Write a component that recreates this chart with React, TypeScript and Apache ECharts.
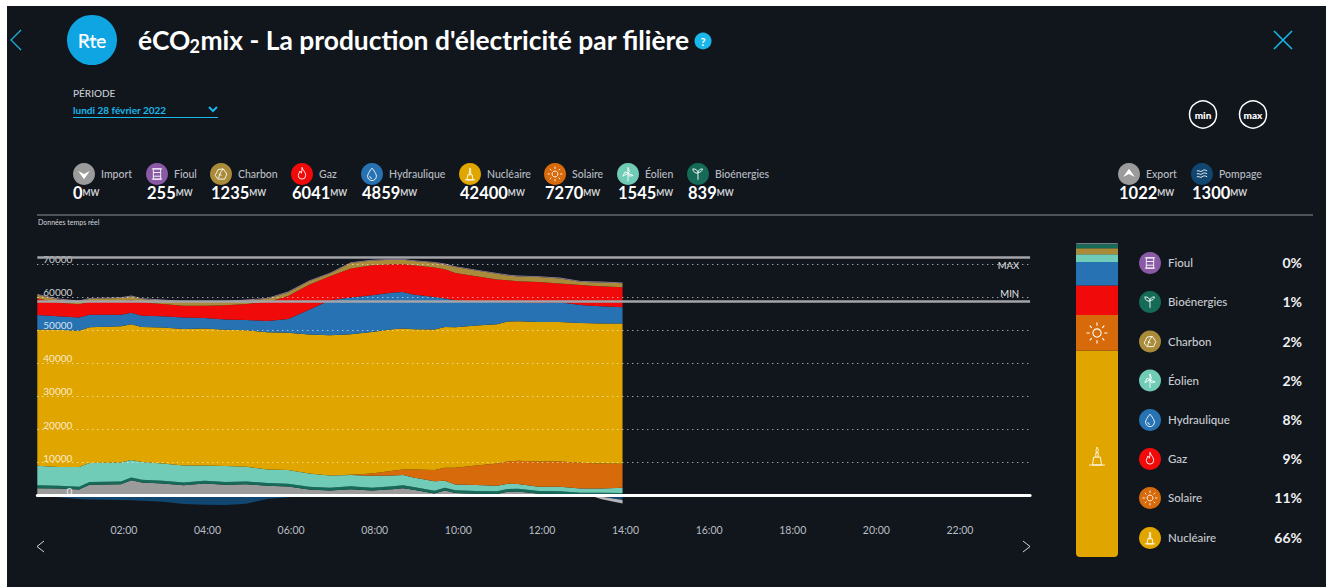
import React, { useEffect, useRef } from "react";
import * as echarts from "echarts";

const hours = [0,0.5,1,1.25,2,2.25,2.5,3,3.5,4,4.5,5,5.5,6,6.5,7,7.5,8,8.5,8.75,9,9.5,9.75,10,10.5,11,11.25,11.5,12,12.5,13,13.25,13.5,14];
const importMW = [2280,2180,1880,3280,3480,4680,3980,3680,3180,3680,3280,3480,2980,2780,1880,1580,1980,1580,1980,2280,1780,680,1580,780,580,480,1180,1280,580,480,80,50,30,0];
const bioMW = [840,840,840,840,840,840,840,840,840,840,840,840,840,840,840,840,840,840,840,840,840,840,840,840,840,840,840,840,840,840,840,840,840,839];
const eolienMW = [5930,5630,5930,5740,5740,5240,5340,5240,5130,4630,4830,4430,4130,4130,4020,3720,3420,3620,3320,3120,2910,2810,2110,1800,1800,1700,1600,1400,1300,1400,1290,1300,1340,1545];
const solaireMW = [0,0,0,0,0,0,0,0,0,0,0,0,0,0,0,0,100,700,1400,1710,2420,3420,3920,5030,5930,6740,6740,7040,7640,7640,7750,7650,7550,7270];
const nucleaireMW = [41150,41450,41150,41040,41140,41040,40840,41040,41250,41350,41150,41250,41450,41450,41960,42350,42450,42750,42760,42550,42350,42450,42550,42450,42250,42040,42240,42140,42140,42140,42240,42240,42240,42400];
const hydroMW = [4400,4100,4000,3800,3500,3500,3400,3400,3400,3200,3100,3100,3400,4200,7500,10560,11070,11070,11070,11070,10460,9860,8560,8150,7250,6650,5850,5750,5750,5950,5440,5340,5240,4859];
const gazMW = [4950,4100,4050,3800,4000,3850,4000,3700,3600,3700,4350,4850,5650,6950,7500,7250,8750,9060,8550,8350,8860,8850,8840,8250,7650,6840,6640,6340,6340,5630,6040,6040,6040,6041];
const charbonMW = [1160,1000,850,1010,1010,1060,1010,1100,1100,1100,1050,1050,1060,1070,1100,800,1660,1450,1360,1360,1250,1460,1470,1760,1750,1760,1460,1460,1460,1560,960,1060,1160,1235];
const fioulMW = [250,250,250,250,250,250,250,250,250,250,250,250,250,250,250,250,250,250,250,250,250,250,250,250,250,250,250,250,250,250,250,250,250,255];
const pompageMW = [0,-500,-1000,-1150,-1300,-1400,-1500,-1800,-2500,-2700,-2800,-2400,-1000,-500,0,0,0,0,0,0,0,0,0,0,0,0,0,0,0,0,0,0,-300,-1300];
const exportMW = [0,0,0,0,0,0,0,0,0,0,0,0,0,0,0,0,0,0,0,0,0,0,0,0,0,0,0,0,0,0,0,0,-800,-1022];
const gridLevels = [10000,20000,30000,40000,50000,60000,70000];
const maxLevel = 71960;
const minLevel = 58670;

const C = {
  import: "#9b9b9b", fioul: "#8a5aa6", charbon: "#a98b3a", gaz: "#f00a0a", hydro: "#2672b2",
  nucleaire: "#e1a500", solaire: "#d76b0c", eolien: "#70cbb7", bio: "#156b58", pompage: "#10466f",
};
const BG = "#11161d";
const CYAN = "#19b7ea";

const ICONS: Record<string, string> = {
  drop: "M12 4C12 4 6 11 6 15a6 6 0 0 0 12 0C18 11 12 4 12 4ZM9 15a3 3 0 0 0 3 3",
  flame: "M12 3c1 4 5 6 5 11a5 5 0 0 1-10 0c0-3 2-4 2-6 1 1 2 2 2 3 1-2 1-5 1-8Z",
  barrel: "M7 5h10v14H7ZM7 10h10M7 15h10M5 5h14M5 19h14",
  rock: "M8 6l7-1 5 7-3 7H8l-4-5ZM9 18c0-4 2-8 6-13M9 12l4 2",
  nuke: "M8 20l1-7h6l1 7ZM5 20h14M11 13V9h2v4M12 9c-2-2 0-3 0-5 1 2 2 3 0 5",
  sun: "M12 8a4 4 0 1 0 .01 0ZM12 2v3M12 19v3M2 12h3M19 12h3M5 5l2 2M17 17l2 2M5 19l2-2M17 7l2-2",
  turbine: "M12 11L12 22M12 11L12 3l2 6ZM12 11l-7 4 3-6ZM12 11l7 3-5 1Z",
  sprout: "M12 20v-9M12 11c0-4-3-6-7-6 0 4 3 6 7 6ZM12 10c0-3 3-5 6-5 0 3-3 5-6 5Z",
  down: "M4 8l8 4 8-4-8 11Z",
  up: "M4 16l8-4 8 4-8-11Z",
  waves: "M5 8c2-2 5 2 7 0s5-2 7 0M5 12c2-2 5 2 7 0s5-2 7 0M5 16c2-2 5 2 7 0s5-2 7 0",
  chevL: "M10 0L0 10L10 20",
  chevR: "M0 0L10 10L0 20",
  chevD: "M0 0L4 4L8 0",
  cross: "M0 0L18 18M18 0L0 18",
};
Object.entries(ICONS).forEach(([k, d]) => {
  echarts.graphic.registerShape("ic_" + k, echarts.graphic.extendPath(d, {}));
});

const FONT = "Lato, 'Noto Sans', sans-serif";
const DAY0 = new Date(2022, 1, 28, 0, 0, 0).getTime();
const H = 3600000;

function txt(text: string, x: number, y: number, fill: string, font: string, align = "left", z = 5) {
  return { type: "text", z, style: { text, x, y, fill, font, textAlign: align, textVerticalAlign: "middle" } };
}
function icon(name: string, cx: number, cy: number, size: number, color = "#fff", fill = "none", lw = 1) {
  const s = size / 24;
  return {
    type: "ic_" + name, x: cx - size / 2, y: cy - size / 2, scaleX: s, scaleY: s, z: 6,
    style: { stroke: fill === "none" ? color : "none", fill, lineWidth: lw / s * 0.9 },
  };
}
function badge(name: string, col: string, cx: number, cy: number, r: number) {
  const filled = name === "down" || name === "up";
  return [
    { type: "circle", z: 5, shape: { cx, cy, r }, style: { fill: col } },
    icon(name, cx, cy, r * 1.6, "#fff", filled ? "#fff" : "none", 1),
  ];
}

const topItems: [string, string, string, number, number, number][] = [
  ["Import", "down", C.import, 84, 73, 0],
  ["Fioul", "barrel", C.fioul, 157, 147, 255],
  ["Charbon", "rock", C.charbon, 221, 211, 1235],
  ["Gaz", "flame", C.gaz, 302, 292, 6041],
  ["Hydraulique", "drop", C.hydro, 372, 362, 4859],
  ["Nucléaire", "nuke", C.nucleaire, 470, 460, 42400],
  ["Solaire", "sun", C.solaire, 555, 545, 7270],
  ["Éolien", "turbine", C.eolien, 628, 618, 1545],
  ["Bioénergies", "sprout", C.bio, 698, 688, 839],
  ["Export", "up", C.import, 1129, 1119, 1022],
  ["Pompage", "waves", C.pompage, 1202, 1192, 1300],
];
const sideItems: [string, string, string, string, number][] = [
  ["Fioul", "barrel", C.fioul, "0%", 263],
  ["Bioénergies", "sprout", C.bio, "1%", 302],
  ["Charbon", "rock", C.charbon, "2%", 341.5],
  ["Éolien", "turbine", C.eolien, "2%", 380.5],
  ["Hydraulique", "drop", C.hydro, "8%", 420],
  ["Gaz", "flame", C.gaz, "9%", 459],
  ["Solaire", "sun", C.solaire, "11%", 498],
  ["Nucléaire", "nuke", C.nucleaire, "66%", 538],
];
const barSegments: [string, string, number][] = [
  ["Nucléaire", C.nucleaire, 42400],
  ["Solaire", C.solaire, 7270],
  ["Gaz", C.gaz, 6041],
  ["Hydraulique", C.hydro, 4859],
  ["Éolien", C.eolien, 1545],
  ["Charbon", C.charbon, 1235],
  ["Bioénergies", C.bio, 839],
  ["Fioul", "#6f7f88", 255],
];
const barTotal = 64444;

function area(name: string, values: number[], color: string, extra: any = {}) {
  return {
    name, type: "line", stack: "prod", xAxisIndex: 0, yAxisIndex: 0, showSymbol: false, silent: true,
    lineStyle: { width: 0 }, areaStyle: { color, opacity: 1 }, itemStyle: { color },
    data: hours.map((h, i) => [DAY0 + h * H, values[i]]), ...extra,
  };
}

export default function App() {
  const ref = useRef<HTMLDivElement>(null);
  useEffect(() => {
    const chart = echarts.init(ref.current!, undefined, { renderer: "svg" });
    const graphic: any[] = [
      { type: "rect", z: -10, shape: { x: 7, y: 6, width: 1319, height: 581 }, style: { fill: BG } },
      { type: "ic_chevL", x: 11, y: 30, z: 6, style: { stroke: CYAN, fill: "none", lineWidth: 1.2 } },
      { type: "ic_cross", x: 1274, y: 31, z: 6, style: { stroke: CYAN, fill: "none", lineWidth: 1.6 } },
      { type: "circle", z: 5, shape: { cx: 92, cy: 40, r: 25 }, style: { fill: "#0fa5e2" } },
      txt("Rte", 92, 40, "#fff", "500 19px " + FONT, "center"),
      { type: "line", z: 6, shape: { x1: 81, y1: 40, x2: 104, y2: 40 }, style: { stroke: "#fff", lineWidth: 1 } },
      txt("éCO", 138, 39.5, "#fff", "bold 26.4px " + FONT),
      txt("2", 189.5, 46, "#fff", "bold 18px " + FONT),
      txt("mix - La production d'électricité par filière", 200.5, 39.5, "#fff", "bold 26.4px " + FONT),
      { type: "circle", z: 5, shape: { cx: 703, cy: 41, r: 8.5 }, style: { fill: CYAN } },
      txt("?", 703, 41, "#fff", "bold 11px " + FONT, "center"),
      txt("PÉRIODE", 73, 93, "#c8ccd0", "500 10px " + FONT),
      txt("lundi 28 février 2022", 73, 110, CYAN, "bold 10px " + FONT),
      { type: "ic_chevD", x: 209, y: 107, z: 6, style: { stroke: CYAN, fill: "none", lineWidth: 2 } },
      { type: "line", z: 5, shape: { x1: 73, y1: 117.5, x2: 218, y2: 117.5 }, style: { stroke: CYAN, lineWidth: 1 } },
      { type: "circle", z: 5, shape: { cx: 1203, cy: 114.5, r: 13.5 }, style: { fill: "none", stroke: "#fff", lineWidth: 1.5 } },
      txt("min", 1203, 114.5, "#fff", "900 10px " + FONT, "center"),
      { type: "circle", z: 5, shape: { cx: 1253, cy: 114.5, r: 13.5 }, style: { fill: "none", stroke: "#fff", lineWidth: 1.5 } },
      txt("max", 1253, 114.5, "#fff", "900 10px " + FONT, "center"),
      { type: "line", z: 5, shape: { x1: 37, y1: 215, x2: 1313, y2: 215 }, style: { stroke: "#8d9196", lineWidth: 1 } },
      txt("Données temps réel", 38, 222, "#d5d7da", "7px " + FONT),
      { type: "ic_chevL", x: 37, y: 541, scaleX: 0.7, scaleY: 0.55, z: 6, style: { stroke: "#fff", fill: "none", lineWidth: 1.3 } },
      { type: "ic_chevR", x: 1023, y: 541, scaleX: 0.7, scaleY: 0.55, z: 6, style: { stroke: "#fff", fill: "none", lineWidth: 1.3 } },
      icon("sun", 1097, 333, 25, "#fff", "none", 1.2),
      icon("nuke", 1097, 456, 27, "#fff", "none", 1),
    ];
    topItems.forEach(([label, ic, col, cx, vx, val]) => {
      graphic.push(...badge(ic, col, cx, 174, 11));
      graphic.push(txt(label, cx + 17, 174, "#b9bdc2", "500 10.5px " + FONT));
      graphic.push({
        type: "text", z: 5,
        style: {
          x: vx, y: 193, textVerticalAlign: "middle",
          text: `{v|${val}}{u|MW}`,
          rich: {
            v: { font: "bold 16.5px " + FONT, fill: "#fff", lineHeight: 18 },
            u: { font: "bold 8.5px " + FONT, fill: "#d0d3d6", lineHeight: 18 },
          },
        },
      });
    });
    sideItems.forEach(([label, ic, col, pct, y]) => {
      graphic.push(...badge(ic, col, 1150, y, 11));
      graphic.push(txt(label, 1168, y - 0.5, "#c9ccd0", "500 11.5px " + FONT));
      graphic.push(txt(pct, 1302, y - 0.5, "#f0f1f2", "bold 14px " + FONT, "right"));
    });

    const dotted = { color: "rgba(255,255,255,0.85)", width: 1, type: [1, 4] };
    chart.setOption({
      animation: false,
      backgroundColor: "#ffffff",
      graphic: { elements: graphic },
      grid: [
        { left: 37.3, width: 992.8, top: 230.9, height: 297.9 },
        { left: 1076, width: 42, top: 243, height: 314 },
      ],
      xAxis: [
        {
          type: "time", gridIndex: 0, min: DAY0, max: DAY0 + 23.75 * H, minInterval: 2 * H, maxInterval: 2 * H, z: 3,
          axisLine: { onZero: true, lineStyle: { color: "#ffffff", width: 3 } },
          axisTick: { show: false }, splitLine: { show: false },
          axisLabel: {
            color: "#b9bdc2", fontSize: 10.5, fontFamily: FONT, margin: -4, showMinLabel: false, showMaxLabel: false, padding: [0, 0, 0, 6],
            formatter: (v: number) => {
              const h = new Date(v).getHours();
              if (h % 2 === 1 || h === 0) return "";
              return (h < 10 ? "0" : "") + h + ":00";
            },
          },
        },
        { type: "category", gridIndex: 1, data: ["mix"], show: false },
      ],
      yAxis: [
        {
          type: "value", gridIndex: 0, min: -10000, max: 80000, interval: 10000, z: 3,
          axisLine: { show: false }, axisTick: { show: false },
          splitLine: { show: false },
          axisLabel: {
            inside: true, margin: 35, align: "right", color: "rgba(255,255,255,0.8)", fontSize: 10, fontFamily: FONT,
            verticalAlign: "bottom", showMinLabel: false, showMaxLabel: false, formatter: (v: number) => String(v),
          },
        },
        { type: "value", gridIndex: 1, min: 0, max: barTotal, show: false },
      ],
      series: [
        area("Import", importMW, C.import),
        area("Bioénergies", bioMW, C.bio),
        area("Éolien", eolienMW, C.eolien),
        area("Solaire", solaireMW, C.solaire),
        area("Nucléaire", nucleaireMW, C.nucleaire),
        area("Hydraulique", hydroMW, C.hydro),
        area("Gaz", gazMW, C.gaz),
        area("Charbon", charbonMW, C.charbon),
        area("Fioul", fioulMW, "#8f7f9a"),
        area("Pompage", pompageMW, C.pompage, { stack: "neg" }),
        area("Export", exportMW, "#b3b5b8", {
          stack: "neg",
          markLine: {
            silent: true, symbol: "none", z: 4,
            lineStyle: { color: "#a3a5a8", width: 2.5, type: "solid" },
            data: [
              ...gridLevels.map((v) => ({ yAxis: v, lineStyle: dotted, label: { show: false } })),
              { yAxis: maxLevel, label: { formatter: "MAX", position: "insideEndBottom", color: "#e6e6e6", fontSize: 9.5, fontFamily: FONT, distance: [11, 3] } },
              { yAxis: minLevel, label: { formatter: "MIN", position: "insideEndTop", color: "#e6e6e6", fontSize: 9.5, fontFamily: FONT, distance: [11, 3] } },
            ],
          },
        }),
        ...barSegments.map(([name, color, v], i) => ({
          name: name + " total", type: "bar", stack: "mix", xAxisIndex: 1, yAxisIndex: 1, barWidth: "100%", silent: true,
          itemStyle: { color, borderRadius: i === 0 ? [0, 0, 4, 4] : i === barSegments.length - 1 ? [2, 2, 0, 0] : 0 },
          data: [v],
        })),
      ],
    });
    return () => chart.dispose();
  }, []);
  return <div ref={ref} style={{ position: "fixed", left: 0, top: 0, width: 1333, height: 587 }} />;
}
